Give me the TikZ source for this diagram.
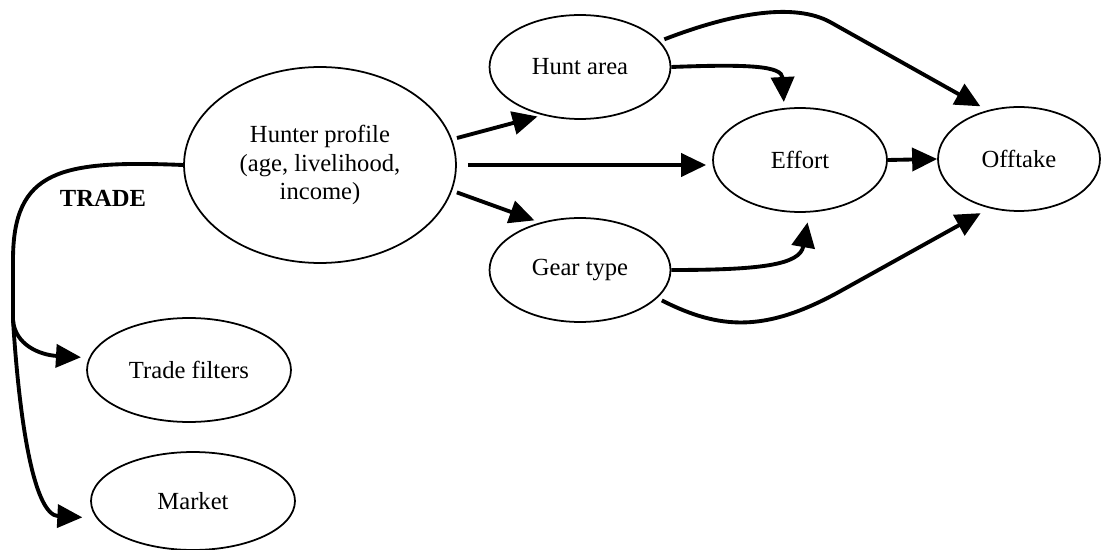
\documentclass[tikz,border=0pt]{standalone}
\usepackage{fontspec}
\setmainfont{Liberation Serif}
\usetikzlibrary{arrows.meta,shapes.geometric}

\begin{document}
\begin{tikzpicture}[x=0.02cm, y=-0.02cm,
	every node/.style={font=\fontsize{14}{16}\selectfont},
	oval/.style={draw, ellipse, line width=1pt, inner sep=0pt, align=center, minimum height=2.08cm},
	flow/.style={-{Triangle[length=0.5cm, width=0.46cm]}, line width=2.2pt}]
\useasboundingbox (0,0) rectangle (1101,550);

% factors
\node[oval, minimum width=5.44cm, minimum height=3.92cm] (hunter) at (320,165) {Hunter profile\\(age, livelihood,\\income)};
\node[oval, minimum width=3.62cm] (hunt) at (580,67) {Hunt area};
\node[oval, minimum width=3.62cm] (gear) at (580,270) {Gear type};
\node[oval, minimum width=3.48cm] (effort) at (800,160) {Effort};
\node[oval, minimum width=3.24cm] (offtake) at (1019,159) {Offtake};
\node[oval, minimum width=4.08cm] (filters) at (189,370) {Trade filters};
\node[oval, minimum width=4.08cm, minimum height=1.96cm] (market) at (193,501) {Market};
\node[font=\fontsize{14}{16}\selectfont\bfseries] (trade) at (103,198) {TRADE};

% hunting side
\draw[flow, shorten <=0.1cm, shorten >=0.1cm] (hunter.11) -- (hunt.232);
\draw[flow, shorten <=0.22cm, shorten >=0.12cm] (hunter.east) -- (hunter.east -| effort.west);
\draw[flow, shorten <=0.1cm, shorten >=0.12cm] (hunter.-11) -- (gear.130);
\draw[flow, shorten >=0.12cm] (hunt.east) .. controls (750,64) and (782,66) .. (effort.107);
\draw[flow, shorten <=0.1cm, shorten >=0.16cm] (hunt.18) .. controls (735,12) and (795,3) .. (830,22) -- (offtake.123);
\draw[flow, shorten >=0.2cm] (gear.east) .. controls (760,270) and (800,265) .. (effort.-80);
\draw[flow, shorten <=0.1cm, shorten >=0.2cm] (gear.-20) .. controls (720,330) and (765,332) .. (837,293) -- (offtake.-121);
\draw[flow] (effort.east) -- (offtake.west);

% trade side
\coordinate (split) at (13,320);
\draw[line width=2.2pt] (hunter.west) .. controls (60,160) and (13,170) .. (13,260) -- (split);
\draw[flow, shorten >=0.16cm] (split) .. controls (15,345) and (40,355) .. (filters.173);
\draw[flow, shorten >=0.28cm] (split) .. controls (20,430) and (35,515) .. (market.190);
\end{tikzpicture}
\end{document}
